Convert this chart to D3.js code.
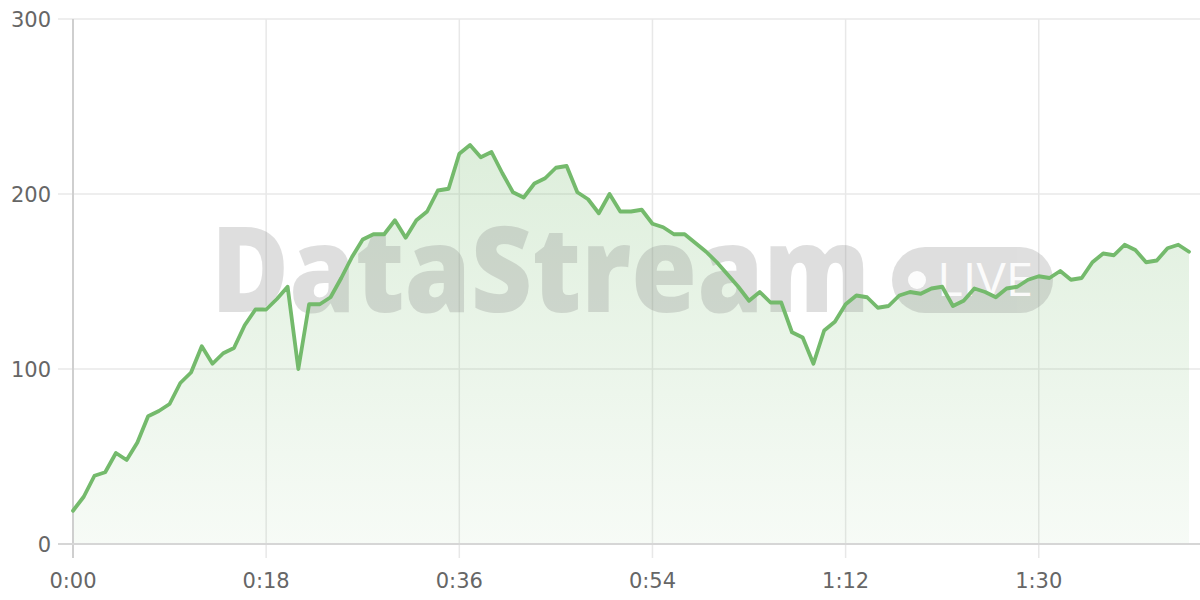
<!DOCTYPE html>
<html>
<head>
<meta charset="utf-8">
<script src="https://cdn.jsdelivr.net/npm/d3@7"></script>
<style>
  html, body { margin: 0; padding: 0; background: #fff; }
  svg { display: block; }
</style>
</head>
<body>
<svg id="chart" width="1200" height="600"></svg>
<script>
// seconds since start
const seconds = d3.range(0, 105);
const values = [
  19, 27, 39, 41, 52, 48, 58, 73, 76, 80,
  92, 98, 113, 103, 109, 112, 125, 134, 134, 140,
  147, 100, 137, 137, 141, 152, 164, 174, 177, 177,
  185, 175, 185, 190, 202, 203, 223, 228, 221, 224,
  212, 201, 198, 206, 209, 215, 216, 201, 197, 189,
  200, 190, 190, 191, 183, 181, 177, 177, 172, 167,
  161, 154, 147, 139, 144, 138, 138, 121, 118, 103,
  122, 127, 137, 142, 141, 135, 136, 142, 144, 143,
  146, 147, 136, 139, 146, 144, 141, 146, 147, 151,
  153, 152, 156, 151, 152, 161, 166, 165, 171, 168,
  161, 162, 169, 171, 167
];
const xTicks = [0, 18, 36, 54, 72, 90];
const yTicks = [0, 100, 200, 300];

const fmt = s => Math.floor(s / 60) + ":" + String(s % 60).padStart(2, "0");

const svg = d3.select("#chart");
const x = d3.scaleLinear().domain([0, 104]).range([73, 1189]);
const y = d3.scaleLinear().domain([0, 300]).range([544, 19]);

const defs = svg.append("defs");
const grad = defs.append("linearGradient")
  .attr("id", "areaGrad").attr("gradientUnits", "userSpaceOnUse")
  .attr("x1", 0).attr("x2", 0).attr("y1", y(300)).attr("y2", y(0));
grad.append("stop").attr("offset", "0%").attr("stop-color", "#74ba6c").attr("stop-opacity", 0.30);
grad.append("stop").attr("offset", "100%").attr("stop-color", "#74ba6c").attr("stop-opacity", 0.06);

// horizontal grid
svg.append("g").selectAll("line").data(yTicks).join("line")
  .attr("x1", 58).attr("x2", 1200)
  .attr("y1", d => y(d)).attr("y2", d => y(d))
  .attr("stroke", "#e8e8e8").attr("stroke-width", 1.5);

// vertical grid
svg.append("g").selectAll("line").data(xTicks).join("line")
  .attr("x1", d => x(d)).attr("x2", d => x(d))
  .attr("y1", y(300)).attr("y2", 558)
  .attr("stroke", "#e8e8e8").attr("stroke-width", 1.5);

// area
const pts = seconds.map((s, i) => [s, values[i]]);
svg.append("path").datum(pts)
  .attr("fill", "url(#areaGrad)")
  .attr("d", d3.area().x(d => x(d[0])).y0(y(0)).y1(d => y(d[1])));

// watermark
const wm = svg.append("g").attr("opacity", 0.25);
wm.append("text")
  .attr("x", 211).attr("y", 312)
  .attr("font-family", "'Open Sans', 'Noto Sans', sans-serif")
  .attr("font-weight", 800).attr("font-size", 118)
  .attr("textLength", 659).attr("lengthAdjust", "spacingAndGlyphs")
  .attr("fill", "#808080").text("DataStream");
wm.append("rect")
  .attr("x", 892).attr("y", 247).attr("width", 161).attr("height", 66)
  .attr("rx", 33).attr("fill", "#808080");
svg.append("circle").attr("cx", 917).attr("cy", 280).attr("r", 9)
  .attr("fill", "#ffffff").attr("opacity", 0.9);
svg.append("text")
  .attr("x", 937).attr("y", 296)
  .attr("font-family", "'Open Sans', 'Noto Sans', sans-serif")
  .attr("font-weight", 400).attr("font-size", 46)
  .attr("textLength", 96).attr("lengthAdjust", "spacingAndGlyphs")
  .attr("fill", "#ffffff").attr("opacity", 0.9).text("LIVE");

// axes lines
svg.append("line").attr("x1", 73).attr("x2", 73).attr("y1", y(300)).attr("y2", 558)
  .attr("stroke", "#cfcfcf").attr("stroke-width", 2);
svg.append("line").attr("x1", 58).attr("x2", 1200).attr("y1", y(0)).attr("y2", y(0))
  .attr("stroke", "#d6d6d6").attr("stroke-width", 2);

// y labels
svg.append("g").selectAll("text").data(yTicks).join("text")
  .attr("x", 51).attr("y", d => y(d)).attr("dy", "0.36em")
  .attr("text-anchor", "end")
  .attr("font-family", "'DejaVu Sans', sans-serif").attr("font-size", 21)
  .attr("fill", "#666").text(d => d);

// x labels
svg.append("g").selectAll("text").data(xTicks).join("text")
  .attr("x", d => x(d)).attr("y", 580).attr("dy", "0.36em")
  .attr("text-anchor", "middle")
  .attr("font-family", "'DejaVu Sans', sans-serif").attr("font-size", 21)
  .attr("fill", "#666").text(d => fmt(d));

// line
svg.append("path").datum(pts)
  .attr("fill", "none").attr("stroke", "#74ba6c").attr("stroke-width", 3.8)
  .attr("stroke-linejoin", "round").attr("stroke-linecap", "round")
  .attr("d", d3.line().x(d => x(d[0])).y(d => y(d[1])));
</script>
</body>
</html>
